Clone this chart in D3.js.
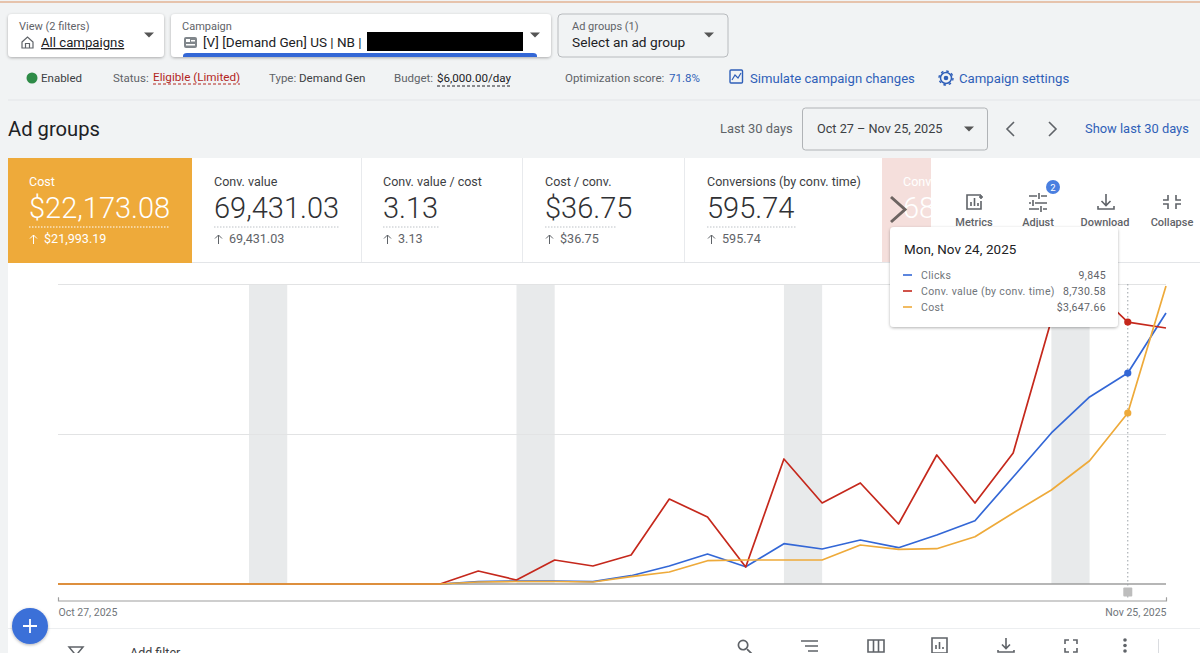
<!DOCTYPE html>
<html><head><meta charset="utf-8">
<script src="https://cdn.jsdelivr.net/npm/d3@7"></script>
<style>
html,body{margin:0;padding:0;background:#f1f3f4;overflow:hidden}
svg{display:block;font-family:Roboto,sans-serif}
</style></head><body>
<svg id="c" width="1200" height="653"></svg>
<script>
// ---------- data ----------
const startDate = "2025-10-27";
const clicks = [0,0,0,0,0,0,0,0,0,0,0,115,140,140,115,387,840,1400,807,1880,1633,2053,1694,2287,2954,4993,7047,8727,9845,12647];
const convValue = [0,0,0,0,0,0,0,0,0,0,0,433,133,800,600,967,2833,2233,567,4167,2700,3367,2000,4300,2700,4367,8800,9950,8730.58,8533];
const cost = [0,0,0,0,0,0,0,0,0,0,0,43,53,53,43,156,256,497,512,512,512,832,740,753,1009,1515,2005,2630,3647.66,6357];
const clicksMax = 14000, convMax = 10000, costMax = 6400;
const gridFractions = [0,0.5,1];
const weekendStarts = ["2025-11-01","2025-11-08","2025-11-15","2025-11-22"];
const hoverDate = "2025-11-24";
const seriesNames = ["Clicks","Conv. value (by conv. time)","Cost"];
const seriesLabels = ["9,845","8,730.58","$3,647.66"];
const cardTitles = ["Cost","Conv. value","Conv. value / cost","Cost / conv.","Conversions (by conv. time)"];
const cardValues = ["$22,173.08","69,431.03","3.13","$36.75","595.74"];
const cardDeltas = ["$21,993.19","69,431.03","3.13","$36.75","595.74"];
const toolLabels = ["Metrics","Adjust","Download","Collapse"];

const BLUE="#3367d6", RED="#c5281c", ORANGE="#eeaa3a", LINK="#2f5fb8";
const svg=d3.select("#c");
const defs=svg.append("defs");
const f=defs.append("filter").attr("id","sh").attr("x","-10%").attr("y","-20%").attr("width","120%").attr("height","150%");
f.append("feDropShadow").attr("dx",0).attr("dy",1).attr("stdDeviation",1.6).attr("flood-color","#000").attr("flood-opacity",.3);
const parse=d3.utcParse("%Y-%m-%d");
const dates=clicks.map((_,i)=>d3.utcDay.offset(parse(startDate),i));

function T(x,y,s,size,fill,opt={}){
  const t=svg.append("text").attr("x",x).attr("y",y).text(s).attr("font-size",size).attr("fill",fill);
  if(opt.w)t.attr("font-weight",opt.w);
  if(opt.a)t.attr("text-anchor",opt.a);
  if(opt.ls)t.attr("letter-spacing",opt.ls);
  return t;
}
function R(x,y,w,h,fill,opt={}){
  const r=svg.append("rect").attr("x",x).attr("y",y).attr("width",w).attr("height",h).attr("fill",fill);
  if(opt.r)r.attr("rx",opt.r);
  if(opt.s)r.attr("stroke",opt.s);
  if(opt.f)r.attr("filter",opt.f);
  return r;
}
function L(x1,y1,x2,y2,s,w=1,dash){
  const l=svg.append("line").attr("x1",x1).attr("y1",y1).attr("x2",x2).attr("y2",y2).attr("stroke",s).attr("stroke-width",w);
  if(dash)l.attr("stroke-dasharray",dash);
  return l;
}
function P(d,opt={}){
  return svg.append("path").attr("d",d).attr("fill",opt.fill||"none").attr("stroke",opt.s||"none").attr("stroke-width",opt.w||1.5);
}
const caret=(x,y,c="#555")=>P(`M${x-5} ${y-2.5}L${x+5} ${y-2.5}L${x} ${y+2.5}Z`,{fill:c});

// top rule
R(0,1,1200,2,"#e6c3ac");

// selector boxes
R(8,14,156,43,"#fff",{r:4,f:"url(#sh)"});
T(19,30,"View (2 filters)",11,"#5f6368");
P("M22 42L27.5 37L33 42V48H22Z M25.5 48V43.5H29.5V48",{s:"#5f6368",w:1.2});
T(41,47,"All campaigns",13.2,"#202124").attr("text-decoration","underline");
caret(149,35);

R(171,14,380,43,"#fff",{r:4,f:"url(#sh)"});
T(182,30,"Campaign",11,"#5f6368");
R(184,37,13,11,"#80868b",{r:2});
R(186,39,4,3,"#fff"); R(191,40,4,1.5,"#fff"); R(186,44,9,1.5,"#fff");
T(203,47,"[V] [Demand Gen] US | NB |",13.5,"#202124");
R(367,32,156,19,"#000");
P("M183 57V56Q183 53 187 53H533Q537 53 537 56V57Z",{fill:BLUE});
caret(535,35);

R(558,14,170,43,"#f1f3f4",{r:4,s:"#b8bbbe"});
T(572,30,"Ad groups (1)",11,"#5f6368");
T(572,47,"Select an ad group",13.7,"#202124");
caret(709,35);

// status row
svg.append("circle").attr("cx",32).attr("cy",78).attr("r",5.5).attr("fill","#2e8b47");
T(41,82,"Enabled",11.5,"#3c4043");
T(113,82,"Status:",11.5,"#5f6368");
T(153,81,"Eligible (Limited)",11.7,"#b3261e");
L(153,84,240,84,"#b3261e",1,"3 2");
T(269,82,"Type:",11.5,"#5f6368");
T(299,82,"Demand Gen",11.6,"#3c4043");
T(394,82,"Budget:",11.5,"#5f6368");
T(437,82,"$6,000.00/day",11.6,"#202124");
L(437,86,511,86,"#202124",1,"3 2");
T(565,82,"Optimization score:",11.5,"#5f6368");
T(669,82,"71.8%",11.5,LINK);
R(730,70,12.5,13,"none",{r:1,s:LINK}).attr("stroke-width",1.4);
P("M732 80L735 75L738 78L741 73",{s:LINK,w:1.2});
T(750,82.5,"Simulate campaign changes",13.1,LINK);
svg.append("circle").attr("cx",946).attr("cy",78).attr("r",5.5).attr("fill","none").attr("stroke",LINK).attr("stroke-width",1.5);
svg.append("circle").attr("cx",946).attr("cy",78).attr("r",2.3).attr("fill",LINK);
svg.append("circle").attr("cx",946).attr("cy",78).attr("r",7).attr("fill","none").attr("stroke",LINK).attr("stroke-width",1.4).attr("stroke-dasharray","2.6 2.9");
T(959,82.5,"Campaign settings",13.2,LINK);
L(8,100,1200,100,"#e3e5e8");

// title row
T(8,136,"Ad groups",20.2,"#202124");
T(720,133,"Last 30 days",12.9,"#5f6368");
R(802.5,108,185,42,"#f1f3f4",{r:3,s:"#b0b3b6"});
T(817,133,"Oct 27 – Nov 25, 2025",12.7,"#3c4043");
caret(969,129);
P("M1014 122L1007 129L1014 136",{s:"#5f6368",w:1.6});
P("M1049 122L1056 129L1049 136",{s:"#5f6368",w:1.6});
T(1085,133,"Show last 30 days",12.9,LINK);

// chart panel
R(8,158,1192,495,"#fff");
L(192,262.5,1200,262.5,"#e3e5e8");
L(8,628.5,1200,628.5,"#eceef0");

// scorecards
R(8,158,184,105,ORANGE);
const cardX=[29,214,383,545,707];
const cardLines=[141,125,57,72,90];
cardTitles.forEach((t,i)=>{
  const a=i===0, sub=a?"#fff":"#5f6368";
  T(cardX[i],186,t,12.5,a?"#fff":"#3c4043");
  T(cardX[i],218,cardValues[i],29,a?"#fff":"#303134",{w:300});
  L(cardX[i],227,cardX[i]+cardLines[i],227,a?"#fff":"#bdc1c6",1,"1.5 1.5");
  P(`M${cardX[i]+4.5} 244V235M${cardX[i]+1} 238.5L${cardX[i]+4.5} 235L${cardX[i]+8} 238.5`,{s:sub,w:1});
  T(cardX[i]+15,243,cardDeltas[i],12.6,sub);
});
[361,522,684].forEach(x=>L(x+.5,158,x+.5,262,"#e8eaed"));
R(882,158,49,104,"#f5dfdc");
T(903,186,"Conv",12.5,"#fff");
T(903,218,"68",29,"#fff",{w:300});
R(931,158,20,104,"#fff");
P("M891 197L905 209.5L891 222",{s:"#6d6461",w:3});

// metric tools
const toolX=[974,1038,1105,1172];
toolLabels.forEach((t,i)=>T(toolX[i],226,t,11,"#5f6368",{a:"middle",w:500}));
P("M981 195H967V209H981V201 M971 206V202 M974.5 206V198 M978 206V203 M981 195V199 M979 197H983",{s:"#5f6368",w:1.6});
P("M1029 196H1037M1041 196H1047M1029 203H1031M1035 203H1047M1029 209H1039M1043 209H1047M1039 193V199M1033 200V206M1041 206V212",{s:"#5f6368",w:1.6});
P("M1106 194V205M1101.5 201L1106 205.5L1110.5 201M1098 206V209H1114V206",{s:"#5f6368",w:1.6});
P("M1168 195V200H1163M1176 195V200H1181M1168 209V204H1163M1176 209V204H1181",{s:"#5f6368",w:1.6});
svg.append("circle").attr("cx",1053).attr("cy",187).attr("r",7).attr("fill","#4a7fe0");
T(1053,191,"2",9.5,"#fff",{a:"middle"});

// ---------- chart ----------
const x=d3.scaleUtc().domain(d3.extent(dates)).range([58,1166]);
const yRange=[584,284];
const yClicks=d3.scaleLinear().domain([0,clicksMax]).range(yRange);
const yConv=d3.scaleLinear().domain([0,convMax]).range(yRange);
const yCost=d3.scaleLinear().domain([0,costMax]).range(yRange);
const yFrac=d3.scaleLinear().domain([0,1]).range(yRange);

const g=svg.append("g");
g.selectAll(".wk").data(weekendStarts).join("rect")
 .attr("x",d=>x(parse(d))).attr("width",d=>x(d3.utcDay.offset(parse(d),1))-x(parse(d)))
 .attr("y",yRange[1]).attr("height",yRange[0]-yRange[1]).attr("fill","#e8eaeb");
g.selectAll(".gr").data(gridFractions.slice(1)).join("line")
 .attr("x1",x.range()[0]).attr("x2",x.range()[1])
 .attr("y1",d=>yFrac(d)+.5).attr("y2",d=>yFrac(d)+.5).attr("stroke","#e2e3e4");
g.append("line").attr("x1",58).attr("x2",1166).attr("y1",yFrac(0)).attr("y2",yFrac(0)).attr("stroke","#9e9e9e").attr("stroke-width",1.5);

// range axis
const axis=d3.axisBottom(x).tickValues([dates[0],dates[dates.length-1]]).tickSize(-3).tickFormat(d3.utcFormat("%b %-d, %Y"));
const ax=svg.append("g").attr("transform","translate(0,600.5)").call(axis);
ax.select(".domain").attr("stroke","#9e9e9e").attr("stroke-width",1.2);
ax.selectAll(".tick line").attr("stroke","#9e9e9e");
ax.selectAll(".tick text").attr("font-family","Roboto,sans-serif").attr("font-size",10.5).attr("fill","#70757a").attr("dy",0).attr("y",15);
ax.selectAll(".tick text").attr("text-anchor",(d,i)=>i?"end":"start");

const hd=parse(hoverDate);
g.append("line").attr("x1",x(hd)).attr("x2",x(hd)).attr("y1",284).attr("y2",600).attr("stroke","#9aa0a6").attr("stroke-dasharray","1.5 2.5");
svg.append("rect").attr("x",x(hd)-4.5).attr("y",587.5).attr("width",9).attr("height",9).attr("rx",1).attr("fill","#bdbdbd");

const series=[[clicks,yClicks,BLUE],[convValue,yConv,RED],[cost,yCost,ORANGE]];
series.forEach(([vals,y,c])=>{
  const line=d3.line().x((d,i)=>x(dates[i])).y(d=>y(d));
  svg.append("path").datum(vals).attr("d",line).attr("fill","none").attr("stroke",c).attr("stroke-width",1.7).attr("stroke-linejoin","round");
});
const hi=dates.findIndex(d=>+d===+hd);
series.forEach(([vals,y,c])=>{
  svg.append("circle").attr("cx",x(hd)).attr("cy",y(vals[hi])).attr("r",3.6).attr("fill",c);
});

// tooltip
R(890,227,228,100,"#fff",{r:4,f:"url(#sh)"});
T(904,254,"Mon, Nov 24, 2025",13.4,"#202124",{ls:.1});
const rowY=[279,295,311], swatch=[BLUE,RED,ORANGE];
seriesNames.forEach((n,i)=>{
  L(903,rowY[i]-4,912,rowY[i]-4,swatch[i],1.6);
  T(921,rowY[i],n,10.5,"#70757a",{ls:.35});
  T(1106,rowY[i],seriesLabels[i],10.5,"#5f6368",{a:"end",ls:.35});
});

// bottom toolbar
T(130,657,"Add filter",12.5,"#3c4043");
P("M69 647H83L78 653V660H74V653Z",{s:"#5f6368",w:1.5});
const gi=svg.append("g").attr("transform","translate(735,637) scale(.85)");
gi.append("path").attr("fill","#5f6368").attr("d","M15.5 14h-.79l-.28-.27A6.471 6.471 0 0 0 16 9.5 6.5 6.5 0 1 0 9.5 16c1.61 0 3.09-.59 4.23-1.57l.27.28v.79l5 4.99L20.49 19l-4.99-5zm-6 0C7.01 14 5 11.99 5 9.5S7.01 5 9.5 5 14 7.01 14 9.5 11.99 14 9.5 14z");
P("M801 641H818M805 646H818M808 651H818",{s:"#5f6368",w:1.6});
P("M868 640H884V652H868ZM873.5 640V652M878.5 640V652",{s:"#5f6368",w:1.6});
P("M932 638H947V653H932ZM936 649V645M939.5 649V642M943 649V647",{s:"#5f6368",w:1.6});
P("M1006 638V648M1002 644.5L1006 648.5L1010 644.5M998 650V652H1014V650",{s:"#5f6368",w:1.6});
P("M1065 644V640H1069M1073 640H1077V644M1065 648V652H1069M1073 652H1077V648",{s:"#5f6368",w:1.6});
[640,645.5,651].forEach(y=>svg.append("circle").attr("cx",1125).attr("cy",y).attr("r",1.8).attr("fill","#5f6368"));
L(1158.5,639,1158.5,653,"#dadce0");

// FAB
svg.append("circle").attr("cx",30).attr("cy",626).attr("r",18).attr("fill","#3b6fd8").attr("filter","url(#sh)");
P("M30 619V633M23 626H37",{s:"#fff",w:1.8});
</script>
</body></html>
